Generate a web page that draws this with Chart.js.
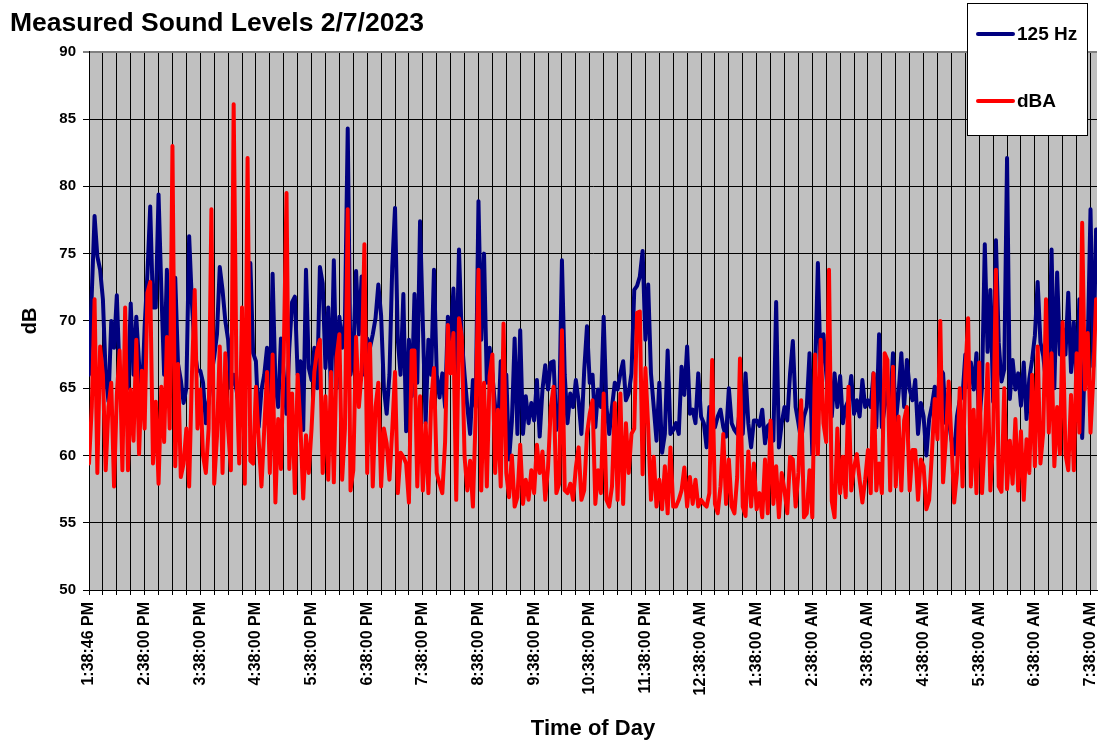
<!DOCTYPE html>
<html>
<head>
<meta charset="utf-8">
<title>Measured Sound Levels 2/7/2023</title>
<script src="https://cdn.jsdelivr.net/npm/chart.js@4.4.1/dist/chart.umd.min.js"></script>
<style>
  html, body { margin: 0; padding: 0; background: #fff; }
</style>
</head>
<body>
<canvas id="chartCanvas" width="1098" height="742"></canvas>
<script>
// ================= DATA =================
// one reading every 3 minutes, starting 1:38:46 PM (20 readings per hour)
const STEP_MIN = 3;
const GRID_MIN = 15;

const hourLabels = [
    "1:38:46 PM", "2:38:00 PM", "3:38:00 PM", "4:38:00 PM", "5:38:00 PM",
    "6:38:00 PM", "7:38:00 PM", "8:38:00 PM", "9:38:00 PM", "10:38:00 PM",
    "11:38:00 PM", "12:38:00 AM", "1:38:00 AM", "2:38:00 AM", "3:38:00 AM",
    "4:38:00 AM", "5:38:00 AM", "6:38:00 AM", "7:38:00 AM"
];

const hz125 = [
    66, 72, 77.8, 74.8, 73.8, 71.6, 66, 64, 70, 68, 71.9, 66, 64.5, 67, 65, 71.3, 66, 70.3, 66.8, 64,
    69.6, 73.5, 78.5, 71, 71, 79.4, 72.3, 66, 73.8, 66, 67.8, 73.2, 66.8, 65.6, 63.9, 65, 76.3, 71.3, 67.8, 66.3,
    66.3, 65.4, 62.4, 64, 66, 67.3, 69, 74, 72.3, 70, 68.6, 65, 66, 64.9, 63.5, 67.3, 65, 66, 74.3, 67.6,
    67, 62.1, 64.9, 66, 68, 63.6, 73.5, 65.4, 63.6, 68.7, 66, 63.1, 68, 71.4, 71.8, 66, 67, 61.9, 73.8, 66.5,
    65.6, 68, 65, 74, 72.8, 66.5, 71, 64.5, 74.5, 65, 70.3, 68, 70, 84.3, 66, 67.5, 73.7, 69, 73.3, 66,
    68.7, 68, 69, 70.2, 72.7, 70.4, 65, 63.1, 66, 74, 78.4, 68.6, 66, 72, 61.8, 68.6, 64.4, 72, 65.4, 77.4,
    69.8, 62.4, 68.6, 66, 73.8, 66, 64.3, 66.1, 63.6, 70.3, 68.6, 72.4, 66, 75.3, 68.6, 66, 63.6, 61.6, 65.6, 63.6,
    78.9, 68.6, 75, 65.4, 68, 66, 63.6, 61.6, 67, 64.9, 66, 59.7, 62.5, 68.7, 61.6, 69.3, 61.6, 64.4, 62.4, 63.9,
    62.6, 65.6, 61.4, 64.9, 66.7, 64.9, 66.9, 67, 61.9, 63, 74.5, 66, 62.4, 64.6, 63.6, 65.6, 64, 61.6, 66.3, 69.6,
    65.4, 66, 62.1, 64.9, 63.6, 70.3, 63.6, 61.6, 63.6, 65.4, 64.9, 66.1, 67, 64.1, 64.6, 66.1, 72.3, 72.6, 73.3, 75.2,
    68.6, 72.7, 66.1, 63.6, 61.1, 65.4, 60.2, 61.6, 67.8, 61.6, 61.9, 62.4, 61.6, 66.6, 64.5, 68.1, 63.1, 63.4, 62.4, 66.1,
    62.9, 62.4, 60.6, 63.6, 62.9, 62.1, 62.9, 63.4, 62.1, 61.4, 65, 62.4, 61.9, 61.6, 63.6, 61.6, 66.1, 62.4, 60.6, 62.6,
    62.6, 62.2, 63.4, 60.9, 62.2, 62.4, 61.1, 71.4, 60.6, 62.4, 63.6, 62.6, 66.1, 68.5, 63.6, 62.4, 61.1, 62.9, 63.6, 67.6,
    60.1, 66.1, 74.3, 66.1, 69, 66.1, 63.6, 62.9, 66.1, 63.6, 65.9, 62.4, 63.6, 64.1, 65.9, 63.1, 64.1, 62.9, 65.6, 63.6,
    64.1, 63.6, 66.1, 62.1, 69, 62.1, 63.6, 64.9, 63.6, 67.6, 62.4, 64.6, 67.6, 63.6, 67.1, 64.9, 64.1, 65.6, 61.6, 63.9,
    62.9, 60, 62.7, 63.7, 65.1, 64.1, 66.4, 66.1, 62.4, 62.7, 61.2, 60.1, 62.9, 64.1, 64.4, 67.5, 65.1, 66.9, 64.9, 67.6,
    62.4, 65.1, 75.7, 67.7, 72.3, 64, 76, 68.4, 65.5, 66.4, 82.1, 64.2, 67.1, 64.9, 66.1, 63.7, 66.9, 62.7, 65.7, 67.1,
    68.9, 72.9, 68.4, 67.4, 65.5, 65.3, 75.3, 65, 73.6, 67.5, 69.4, 67.5, 72.1, 66.2, 69.9, 65, 71.6, 61.3, 67.2, 68.1,
    78.3, 66.6, 76.8
];

const dba = [
    59.4, 63.6, 71.6, 58.7, 68.1, 66, 58.9, 63.6, 65.4, 57.7, 64.5, 67.8, 58.9, 71, 58.9, 64.9, 61.1, 68.6, 60.1, 66.3,
    62, 72.1, 72.9, 59.4, 64, 57.9, 65.1, 61, 68.8, 62, 83, 59.2, 66.8, 58.4, 59.4, 62, 57.7, 66, 72.3, 62,
    64.9, 60, 58.7, 62, 78.3, 57.9, 61.4, 68.1, 58.7, 67.6, 62, 58.9, 86.1, 66, 59.4, 71, 57.9, 82.1, 59.6, 59.4,
    65.1, 61.1, 57.7, 62, 66.2, 58.7, 67.5, 56.5, 62.7, 59, 67.5, 79.5, 59, 64.6, 57.2, 66, 62.2, 56.8, 61.5, 58.7,
    62, 66.2, 67.8, 68.6, 58.7, 64.4, 58.2, 66.2, 58, 67.3, 69, 58.2, 62, 78.3, 57.4, 58.9, 68.8, 63.6, 66.2, 75.7,
    58.7, 68.3, 57.7, 63.6, 65.4, 57.7, 62, 60.9, 58.2, 61.9, 66.2, 57.2, 60.2, 59.9, 59.4, 56.5, 67.8, 67.8, 57.7, 64.4,
    57.4, 62.4, 57.2, 64, 66.5, 58.7, 57.9, 57.2, 61, 69.7, 66.1, 69.1, 56.7, 70.2, 68.8, 59.9, 57.4, 59.6, 56.2, 63.1,
    73.8, 57.4, 65.4, 57.7, 65.9, 67.5, 58.7, 63.4, 57.7, 69.8, 58.7, 56.9, 60, 56.2, 56.9, 60.8, 56.4, 58.2, 56.7, 58.9,
    57.2, 60.8, 58.7, 60.3, 56.7, 59.1, 63.6, 65.1, 57.2, 57.9, 69.3, 57.4, 57.2, 57.9, 56.7, 59.1, 60.6, 56.7, 57.4, 61.6,
    63.1, 64.1, 56.4, 58.9, 57.2, 64.6, 56.7, 56.2, 57.7, 63.9, 56.7, 64.6, 56.4, 62.4, 58.7, 61.6, 62, 70.6, 70.7, 58.6,
    66.5, 62.1, 56.7, 59.9, 56.2, 58.2, 56, 59.2, 55.7, 60.6, 56.2, 56.2, 56.7, 57.4, 59.1, 56.2, 58.4, 56.4, 58.2, 56.2,
    56.7, 56.4, 56.2, 57.2, 67.1, 56.4, 55.7, 57.7, 61.6, 56.4, 59.7, 56.2, 55.7, 58.4, 67.2, 56.2, 55.5, 60.3, 56.2, 59.4,
    56, 57.2, 55.4, 59.7, 55.7, 62.6, 56.4, 59.2, 55.4, 58.7, 57.4, 55.7, 59.9, 59.7, 56.2, 58.7, 64.1, 55.4, 55.7, 58.9,
    55.4, 67.5, 60.1, 68.6, 62.4, 61, 73.8, 56.6, 55.4, 62, 57.2, 59.9, 56.9, 65.1, 57.4, 59.1, 60.1, 58.2, 56.5, 58.2,
    60.4, 57.2, 66.1, 57.4, 59.4, 57.2, 67.6, 67.1, 57.4, 66.6, 57.7, 62.9, 57.4, 62.6, 63.6, 57.4, 60.4, 60.4, 56.7, 59.7,
    59.2, 56, 56.7, 60.2, 64.2, 61.2, 70, 58, 61.2, 65.5, 61.2, 56.5, 58.7, 65, 57.7, 66.1, 70.2, 57.7, 63.4, 57.2,
    66.9, 57.2, 61.2, 66.8, 57.4, 61, 73.8, 57.7, 57.3, 65, 57.5, 61.1, 57.9, 62.7, 57.4, 61.8, 56.7, 61.2, 58.7, 66,
    59.2, 68.1, 59.4, 61.7, 71.6, 61.7, 67.6, 59.2, 63.6, 60.1, 69.9, 60.1, 58.9, 64.5, 58.9, 67.6, 61.7, 77.3, 64.9, 69.1,
    61.7, 65.8, 71.6
];

// minutes since 1:38:46 PM
const minutes = hz125.map((_, i) => i * STEP_MIN);
const X_MAX = 1087;
const gridMinutes = [];
for (let m = 0; m <= X_MAX; m += GRID_MIN) gridMinutes.push(m);

const FONT = "'Liberation Sans', Arial, Helvetica, sans-serif";
Chart.defaults.font.family = FONT;
Chart.defaults.color = "#000";

// ================= PLUGINS =================

// gray plot background
const plotBg = {
    id: "plotBg",
    beforeDraw(chart) {
        const a = chart.chartArea;
        const ctx = chart.ctx;
        ctx.save();
        ctx.fillStyle = "#c0c0c0";
        ctx.fillRect(a.left, a.top, a.right - a.left, a.bottom - a.top);
        ctx.restore();
    }
};

// boxed legend in the top right corner
const legendBox = {
    id: "legendBox",
    afterDraw(chart) {
        const ctx = chart.ctx;
        const box = { x: 967, y: 3, w: 120, h: 132 };
        ctx.save();
        ctx.fillStyle = "#fff";
        ctx.fillRect(box.x, box.y, box.w, box.h);
        ctx.strokeStyle = "#000";
        ctx.lineWidth = 1;
        ctx.strokeRect(box.x + 0.5, box.y + 0.5, box.w, box.h);

        ctx.font = "bold 19px " + FONT;
        ctx.textBaseline = "middle";
        ctx.textAlign = "left";
        const rows = [34, 101];
        chart.data.datasets.forEach((ds, i) => {
            const y = rows[i];
            ctx.strokeStyle = ds.borderColor;
            ctx.lineWidth = 4;
            ctx.lineCap = "round";
            ctx.beginPath();
            ctx.moveTo(box.x + 11, y);
            ctx.lineTo(box.x + 46, y);
            ctx.stroke();
            ctx.fillStyle = "#000";
            ctx.fillText(ds.label, box.x + 50, y + 1);
        });
        ctx.restore();
    }
};

// ================= CHART =================

const lineStyle = {
    borderWidth: 4,
    pointRadius: 0,
    tension: 0,
    fill: false,
    borderJoinStyle: "round",
    borderCapStyle: "round"
};

new Chart(document.getElementById("chartCanvas"), {
    type: "line",
    data: {
        labels: minutes,
        datasets: [
            { label: "125 Hz", data: hz125, borderColor: "#000080", order: 2, ...lineStyle },
            { label: "dBA", data: dba, borderColor: "#ff0000", order: 1, ...lineStyle }
        ]
    },
    options: {
        responsive: false,
        animation: false,
        events: [],
        layout: { padding: { left: 10, right: 1, top: 0, bottom: 0 } },
        plugins: {
            legend: { display: false },
            tooltip: { enabled: false },
            title: {
                display: true,
                text: "Measured Sound Levels 2/7/2023",
                align: "start",
                color: "#000",
                font: { size: 26.5, weight: "bold" },
                padding: { top: 8, bottom: 12 }
            }
        },
        scales: {
            x: {
                type: "linear",
                min: 0,
                max: X_MAX,
                afterBuildTicks: s => { s.ticks = gridMinutes.map(v => ({ value: v })); },
                afterFit: s => { s.height = 152; s.paddingLeft = 0; s.paddingRight = 0; },
                ticks: {
                    autoSkip: false,
                    minRotation: 90,
                    maxRotation: 90,
                    padding: 7,
                    color: "#000",
                    font: { size: 16, weight: "bold" },
                    callback: v => (v % 60 === 0 ? hourLabels[v / 60] : "")
                },
                grid: { color: "#000", lineWidth: 1, tickLength: 5 },
                border: { color: "#000", width: 1 },
                title: {
                    display: true,
                    text: "Time of Day",
                    color: "#000",
                    font: { size: 22, weight: "bold" },
                    padding: { top: 0, bottom: 0 }
                }
            },
            y: {
                min: 50,
                max: 90,
                afterFit: s => { s.width = 79; s.paddingTop = 0; s.paddingBottom = 0; },
                ticks: {
                    stepSize: 5,
                    padding: 7,
                    color: "#000",
                    font: { size: 15, weight: "bold" }
                },
                grid: {
                    color: c => (c.tick && c.tick.value === 90 ? "#808080" : "#000"),
                    lineWidth: c => (c.tick && c.tick.value === 90 ? 2 : 1),
                    tickLength: 6
                },
                border: { color: "#000", width: 1 },
                title: {
                    display: true,
                    text: "dB",
                    color: "#000",
                    font: { size: 20, weight: "bold" },
                    padding: { top: 8, bottom: 0 }
                }
            }
        }
    },
    plugins: [plotBg, legendBox]
});
</script>
</body>
</html>
